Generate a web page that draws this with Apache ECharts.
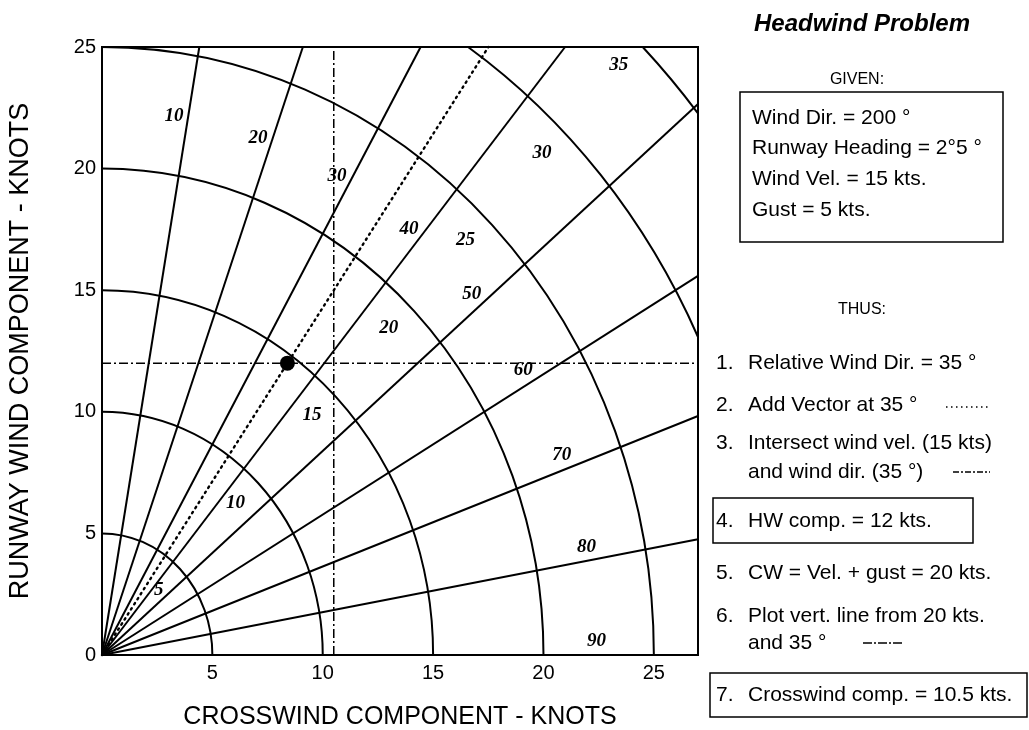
<!DOCTYPE html>
<html>
<head>
<meta charset="utf-8">
<script src="https://cdn.jsdelivr.net/npm/echarts@6/dist/echarts.min.js"></script>
<style>
  html, body { margin: 0; padding: 0; background: #fff; }
  #main { width: 1029px; height: 730px; }
</style>
</head>
<body>
<div id="main"></div>
<script>
// wind speed rings (kts) and relative wind angle spokes (deg)
const speedRings = [5, 10, 15, 20, 25, 30, 35];
const ringLabels = ['5', '10', '15', '20', '25', '30', '35'];
const windAngles = [10, 20, 30, 40, 50, 60, 70, 80];
const angleLabelDeg = [10, 20, 30, 40, 50, 60, 70, 80, 90];
const angleLabels = ['10', '20', '30', '40', '50', '60', '70', '80', '90'];
const xTickLabels = [5, 10, 15, 20, 25];

// worked problem
const vectorAngle = 35;
const headwindComp = 12;
const crosswindComp = 10.5;
const fixPoint = [8.4, 12];

const givenLines = ['Wind Dir. = 200 °', 'Runway Heading = 2°5 °', 'Wind Vel. = 15 kts.', 'Gust = 5 kts.'];
const thusNums = ['1.', '2.', '3.', '', '4.', '5.', '6.', '', '7.'];
const thusLines = [
  'Relative Wind Dir. = 35 °',
  'Add Vector at 35 °',
  'Intersect wind vel. (15 kts)',
  'and wind dir. (35 °)',
  'HW comp. = 12 kts.',
  'CW = Vel. + gust = 20 kts.',
  'Plot vert. line from 20 kts.',
  'and 35 °',
  'Crosswind comp. = 10.5 kts.'
];

const X_MAX = 27, Y_MAX = 25;
const INK = '#000';
const SANS = "'Liberation Sans', Arial, Helvetica, sans-serif";
const SERIF = "'Liberation Serif', 'Times New Roman', serif";

let chart = echarts.init(document.getElementById('main'));

function rad(d) { return d * Math.PI / 180; }

function renderSpoke(params, api) {
  const a = rad(api.value(0));
  const len = Math.min(X_MAX / Math.sin(a), Y_MAX / Math.cos(a));
  const p0 = api.coord([0, 0]);
  const p1 = api.coord([len * Math.sin(a), len * Math.cos(a)]);
  return {
    type: 'line',
    shape: { x1: p0[0], y1: p0[1], x2: p1[0], y2: p1[1] },
    style: { stroke: INK, lineWidth: 2 }
  };
}

function renderRing(params, api) {
  const r = api.value(0);
  const x0 = r > Y_MAX ? Math.sqrt(r * r - Y_MAX * Y_MAX) : 0;
  const y0 = Math.sqrt(r * r - x0 * x0);
  const y1 = r > X_MAX ? Math.sqrt(r * r - X_MAX * X_MAX) : 0;
  const x1 = Math.sqrt(r * r - y1 * y1);
  const p0 = api.coord([x0, y0]);
  const p1 = api.coord([x1, y1]);
  const sz = api.size([r, r]);
  const lr = r - 1.3, la = rad(44);
  const lp = api.coord([lr * Math.sin(la), lr * Math.cos(la)]);
  return {
    type: 'group',
    children: [{
      type: 'path',
      shape: { pathData: 'M' + p0[0] + ' ' + p0[1] + ' A' + sz[0] + ' ' + sz[1] + ' 0 0 1 ' + p1[0] + ' ' + p1[1] },
      style: { stroke: INK, lineWidth: 2, fill: null }
    }, {
      type: 'text',
      x: lp[0], y: lp[1],
      style: {
        text: ringLabels[params.dataIndex], fill: INK,
        font: 'italic bold 19px ' + SERIF, align: 'center', verticalAlign: 'middle'
      }
    }]
  };
}

function renderAngleLabel(params, api) {
  const a = rad(api.value(0));
  const r = 22.4;
  const p = api.coord([r * Math.sin(a), r * Math.cos(a)]);
  return {
    type: 'text',
    x: p[0] - 14 * Math.cos(a), y: p[1] - 14 * Math.sin(a),
    style: {
      text: angleLabels[params.dataIndex], fill: INK,
      font: 'italic bold 19px ' + SERIF, align: 'center', verticalAlign: 'middle'
    }
  };
}

function renderVector(params, api) {
  const a = rad(api.value(0));
  const len = Math.min(X_MAX / Math.sin(a), Y_MAX / Math.cos(a));
  const p0 = api.coord([0, 0]);
  const p1 = api.coord([len * Math.sin(a), len * Math.cos(a)]);
  return {
    type: 'line',
    shape: { x1: p0[0], y1: p0[1], x2: p1[0], y2: p1[1] },
    style: { stroke: INK, lineWidth: 2.4, lineDash: [1.5, 4.5], lineCap: 'round' }
  };
}

// right-hand panel
let panel = [];
function addText(text, x, y, font, align) {
  panel.push({
    type: 'text', x: x, y: y,
    style: { text: text, fill: INK, font: font, align: align || 'left', verticalAlign: 'middle' }
  });
}
function addBox(x, y, w, h) {
  panel.push({ type: 'rect', shape: { x: x, y: y, width: w, height: h }, style: { fill: null, stroke: INK, lineWidth: 1.5 } });
}
function addSample(x1, x2, y, dash) {
  panel.push({ type: 'line', shape: { x1: x1, y1: y, x2: x2, y2: y }, style: { stroke: INK, lineWidth: 1.4, lineDash: dash } });
}

addText('Headwind Problem', 862, 24, 'italic bold 24px ' + SANS, 'center');
addText('GIVEN:', 857, 80, '16px ' + SANS, 'center');
addBox(740, 92, 263, 150);
const givenY = [118, 148, 179, 210];
givenLines.forEach(function (t, i) { addText(t, 752, givenY[i], '21px ' + SANS); });

addText('THUS:', 862, 310, '16px ' + SANS, 'center');
const thusY = [363, 405, 443, 472, 521, 573, 616, 643, 695];
thusLines.forEach(function (t, i) {
  if (thusNums[i]) addText(thusNums[i], 716, thusY[i], '21px ' + SANS);
  addText(t, 748, thusY[i], '21px ' + SANS);
});
addBox(713, 498, 260, 45);
addBox(710, 673, 317, 44);
addSample(946, 990, 407, [1.5, 3.5]);
addSample(953, 990, 472, [6, 2, 2, 2]);
addSample(863, 903, 643, [9, 2, 2, 2]);

chart.setOption({
  backgroundColor: '#fff',
  animation: false,
  grid: {
    left: 102, top: 47, right: 331, bottom: 75,
    show: true, borderColor: INK, borderWidth: 2,
    outerBoundsMode: 'none'
  },
  xAxis: {
    type: 'value', min: 0, max: X_MAX, interval: 5,
    name: 'CROSSWIND COMPONENT - KNOTS',
    nameLocation: 'middle', nameGap: 50,
    nameTextStyle: { color: INK, fontSize: 25, fontFamily: SANS },
    axisLine: { lineStyle: { color: INK, width: 2 } },
    axisTick: { show: false },
    splitLine: { show: false },
    axisLabel: {
      color: INK, fontSize: 20, fontFamily: SANS, margin: 8,
      formatter: function (v) { return xTickLabels.indexOf(v) >= 0 ? String(v) : ''; }
    }
  },
  yAxis: {
    type: 'value', min: 0, max: Y_MAX, interval: 5,
    name: 'RUNWAY WIND COMPONENT - KNOTS',
    nameLocation: 'middle', nameGap: 68,
    nameTextStyle: { color: INK, fontSize: 27, fontFamily: SANS },
    axisLine: { lineStyle: { color: INK, width: 2 } },
    axisTick: { show: false },
    splitLine: { show: false },
    axisLabel: { color: INK, fontSize: 20, fontFamily: SANS, margin: 6 }
  },
  series: [
    { type: 'custom', name: 'angles', renderItem: renderSpoke, data: windAngles, silent: true },
    { type: 'custom', name: 'rings', renderItem: renderRing, data: speedRings, silent: true },
    { type: 'custom', name: 'angleLabels', renderItem: renderAngleLabel, data: angleLabelDeg, silent: true },
    { type: 'custom', name: 'vector', renderItem: renderVector, data: [vectorAngle], silent: true },
    {
      type: 'line', name: 'crosswind', symbol: 'none', silent: true,
      data: [[crosswindComp, 0], [crosswindComp, Y_MAX]],
      lineStyle: { color: INK, width: 1.5, type: [9, 3, 2, 3] }
    },
    {
      type: 'line', name: 'headwind', symbol: 'none', silent: true,
      data: [[0, headwindComp], [X_MAX, headwindComp]],
      lineStyle: { color: INK, width: 1.5, type: [9, 3, 2, 3] }
    },
    {
      type: 'scatter', name: 'fix', silent: true, z: 5,
      data: [fixPoint], symbolSize: 15,
      itemStyle: { color: INK, opacity: 1 }
    }
  ],
  graphic: panel
});

window.onresize = function () {
  chart.resize();
};
</script>
</body>
</html>
